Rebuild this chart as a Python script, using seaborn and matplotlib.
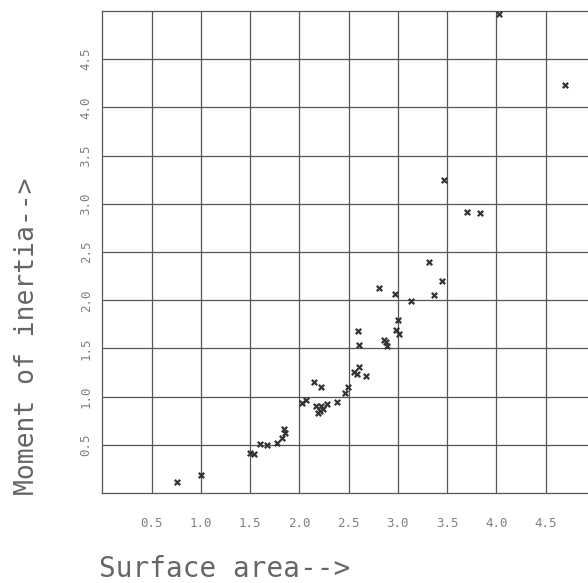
import matplotlib
matplotlib.use("Agg")
import matplotlib.pyplot as plt
import seaborn as sns
import pandas as pd

surface_area = [0.76, 1.00, 1.50, 1.54, 1.60, 1.67, 1.77, 1.82, 1.84, 1.85,
                2.03, 2.07, 2.15, 2.22, 2.17, 2.21, 2.19, 2.24, 2.28, 2.22,
                2.38, 2.46, 2.49, 2.55, 2.58, 2.61, 2.68, 2.60, 2.61, 2.81,
                2.97, 3.13, 3.37, 3.45, 3.00, 2.98, 3.01, 2.86, 2.88, 2.89,
                3.32, 3.47, 3.70, 3.83, 4.03, 4.70]
moment_of_inertia = [0.11, 0.19, 0.42, 0.41, 0.51, 0.50, 0.52, 0.57, 0.66, 0.62,
                     0.93, 0.97, 1.15, 1.10, 0.90, 0.85, 0.83, 0.87, 0.92, 0.90,
                     0.95, 1.04, 1.10, 1.26, 1.24, 1.31, 1.21, 1.68, 1.54, 2.13,
                     2.06, 1.99, 2.05, 2.20, 1.80, 1.69, 1.65, 1.59, 1.57, 1.53,
                     2.40, 3.25, 2.92, 2.91, 4.97, 4.23]
tick_values = [0.5, 1.0, 1.5, 2.0, 2.5, 3.0, 3.5, 4.0, 4.5]
tick_labels = ["0.5", "1.0", "1.5", "2.0", "2.5", "3.0", "3.5", "4.0", "4.5"]

df = pd.DataFrame({"x": surface_area, "y": moment_of_inertia})

sns.set_style("white")
plt.rcParams["font.family"] = ["DejaVu Sans Mono", "DejaVu Sans"]

fig = plt.figure(figsize=(5.88, 5.83), dpi=100)
ax = fig.add_axes([102.4 / 588, (583 - 493.1) / 583, 1 - 102.4 / 588, (493.1 - 11) / 583])

sns.scatterplot(data=df, x="x", y="y", ax=ax, marker="x", s=15,
                color="#333333", linewidth=1.6, zorder=3)

ax.set_xlim(0, 4.93)
ax.set_ylim(0, 5.0)
ax.set_xticks(tick_values)
ax.set_xticklabels(tick_labels)
ax.set_yticks(tick_values)
ax.set_yticklabels(tick_labels, rotation=90, va="center")
ax.grid(True, color="#555555", linewidth=0.9)
ax.tick_params(axis="both", length=0, labelsize=9, labelcolor="#808080")
ax.tick_params(axis="x", pad=17)
ax.tick_params(axis="y", pad=7)
for side in ["left", "top", "bottom"]:
    ax.spines[side].set_color("#555555")
    ax.spines[side].set_linewidth(0.9)
ax.spines["right"].set_visible(False)

ax.set_xlabel("Surface area-->", fontsize=20, color="#666666", loc="left")
ax.set_ylabel("Moment of inertia-->", fontsize=19, color="#666666", loc="bottom")
ax.xaxis.set_label_coords(-0.006, -0.128)
ax.yaxis.set_label_coords(-0.128, -0.004)

fig.savefig("out.png", dpi=100)
